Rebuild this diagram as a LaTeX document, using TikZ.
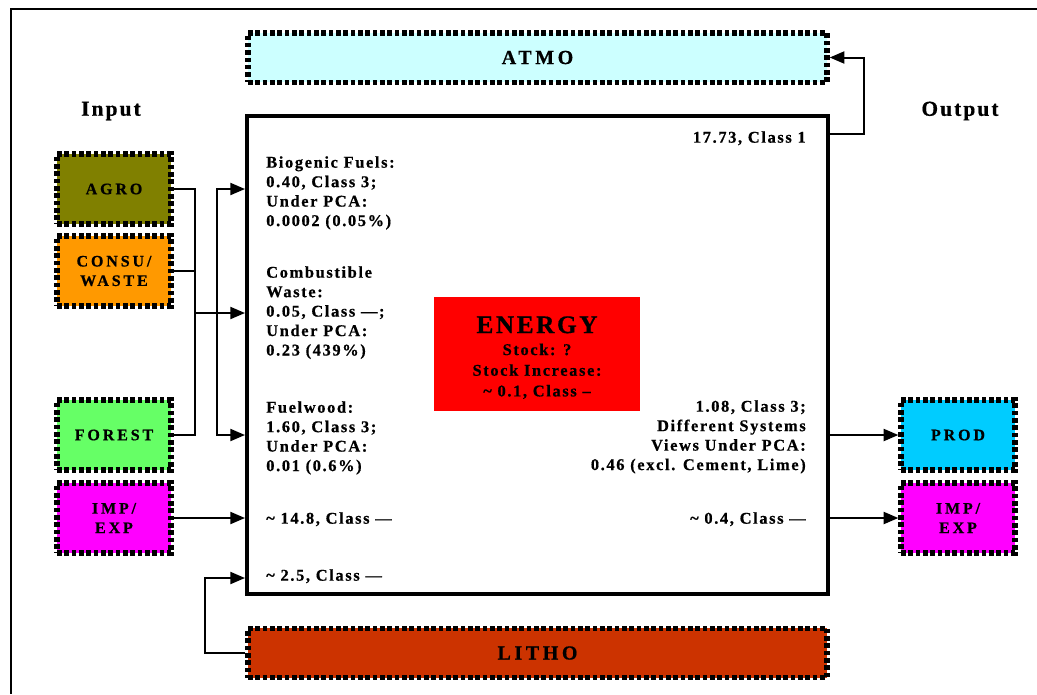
\documentclass[tikz,border=0pt]{standalone}
\usepackage{fontspec}
\newfontfamily\bodyfont[LetterSpace=10, FakeBold=0.6]{Liberation Serif}
\newfontfamily\capfont[LetterSpace=18, FakeBold=0.6]{Liberation Serif}
\usetikzlibrary{positioning, arrows.meta}

\definecolor{agrocol}{HTML}{808000}
\definecolor{wastecol}{HTML}{FF9900}
\definecolor{forestcol}{HTML}{66FF66}
\definecolor{tradecol}{HTML}{FF00FF}
\definecolor{prodcol}{HTML}{00CCFF}
\definecolor{atmocol}{HTML}{CCFFFF}
\definecolor{lithocol}{HTML}{CC3300}

\begin{document}
\begin{tikzpicture}[
    x=0.75pt, y=-0.75pt,
    flowbox/.style={draw, line width=4pt, dash pattern=on 3.4pt off 2.1pt,
                    minimum width=85.5pt, minimum height=52.5pt, inner sep=0pt,
                    align=center, font=\capfont\bfseries\fontsize{12}{14.6}\selectfont},
    layerbox/.style={flowbox, minimum width=434.25pt, minimum height=37pt,
                     font=\capfont\bfseries\fontsize{15}{18}\selectfont},
    txt/.style={inner sep=0pt, font=\bodyfont\bfseries\fontsize{12.3}{14.6}\selectfont},
    head/.style={inner sep=0pt, font=\bodyfont\bfseries\fontsize{16}{18}\selectfont},
    arr/.style={-{Triangle[length=11pt, width=9pt]}, line width=1.5pt},
    link/.style={line width=1pt}
]
\useasboundingbox (0,0) rectangle (1037,694);

% --- frame ---
\draw[line width=1.1pt] (1037,9) -- (11,9) -- (11,694);

% --- headings ---
\node[head] (inlabel) at (111,111) {Input};
\node[head] (outlabel) at (960,111) {Output};

% --- environment layers ---
\node[layerbox, fill=atmocol] (atmo) at (537.5,57.5) {ATMO};
\node[layerbox, fill=lithocol] (litho) at (537.5,653) {LITHO};

% --- system box ---
\node[draw, line width=3pt, minimum width=435.75pt, minimum height=358.5pt] (sys) at (537.5,355) {};
\node[fill=red, minimum width=154.5pt, minimum height=85.5pt, inner sep=0pt] (energy) at (537,354) {};
\node[inner sep=0pt, align=center, font=\bodyfont\bfseries\fontsize{12.3}{15.5}\selectfont,
      anchor=north] (energytxt) at (537,316)
    {{\fontsize{19}{20}\selectfont ENERGY}\\[1pt]Stock: ?\\Stock Increase:\\\textasciitilde{} 0.1, Class \textendash};

% --- inputs ---
\node[flowbox, fill=agrocol] (agro) at (114,189) {AGRO};
\node[flowbox, fill=wastecol] (waste) at (114,271) {CONSU/\\WASTE};
\node[flowbox, fill=forestcol] (forest) at (114,435) {FOREST};
\node[flowbox, fill=tradecol] (impin) at (114,518) {IMP/\\EXP};

% --- outputs ---
\node[flowbox, fill=prodcol] (prod) at (958,435) {PROD};
\node[flowbox, fill=tradecol] (impout) at (958,518) {IMP/\\EXP};

% --- flows written in the system box ---
\node[txt, anchor=north east] (toatmo) at (806,131) {17.73, Class 1};
\node[txt, anchor=north west, align=left] (biofuel) at (266,156)
    {Biogenic Fuels:\\0.40, Class 3;\\Under PCA:\\0.0002 (0.05\%)};
\node[txt, anchor=north west, align=left] (combwaste) at (266,266)
    {Combustible\\Waste:\\0.05, Class \textemdash;\\Under PCA:\\0.23 (439\%)};
\node[txt, anchor=north west, align=left] (fuelwood) at (266,401)
    {Fuelwood:\\1.60, Class 3;\\Under PCA:\\0.01 (0.6\%)};
\node[txt, anchor=north west] (fromimp) at (266,512) {\textasciitilde{} 14.8, Class \textemdash};
\node[txt, anchor=north west] (fromlitho) at (266,569) {\textasciitilde{} 2.5, Class \textemdash};
\node[txt, anchor=north east, align=right] (toprod) at (806,400)
    {1.08, Class 3;\\Different Systems\\Views Under PCA:\\0.46 (excl. Cement, Lime)};
\node[txt, anchor=north east] (toexp) at (806,512) {\textasciitilde{} 0.4, Class \textemdash};

% --- input connectors ---
\coordinate (busin) at (195,313);
\coordinate (split) at (217,313);
\draw[link] (agro.east) -| (busin);
\draw[link] (forest.east) -| (busin);
\draw[link] (waste.east) -- (waste.east -| busin);
\draw[arr] (busin) -- (busin -| sys.west);
\draw[arr] (split) |- (agro.east -| sys.west);
\draw[arr] (split) |- (forest.east -| sys.west);
\draw[arr] (impin) -- (impin -| sys.west);

\coordinate (lithoturn) at (205,578);
\draw[arr] (litho.west) -| (lithoturn) -- (lithoturn -| sys.west);

% --- output connectors ---
\coordinate (atmoturn) at (864,134);
\draw[arr] (atmoturn -| sys.east) -- (atmoturn) |- (atmo.east);
\draw[arr] (prod -| sys.east) -- (prod.west);
\draw[arr] (impout -| sys.east) -- (impout.west);

\end{tikzpicture}
\end{document}
